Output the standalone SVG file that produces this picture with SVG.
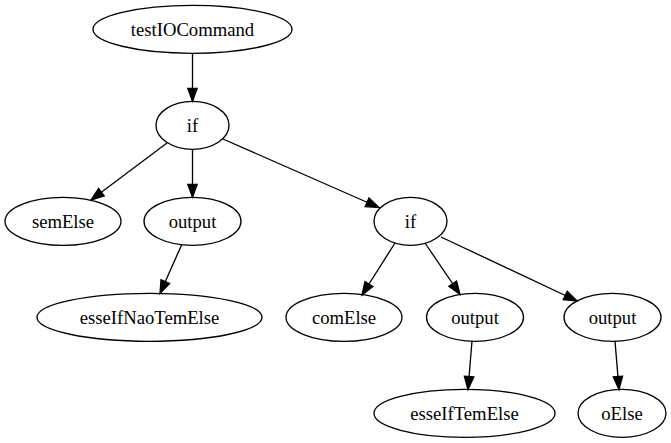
<svg xmlns="http://www.w3.org/2000/svg" width="671" height="443" viewBox="0 0 671 443">
<style>
.n ellipse{fill:none;stroke:#000;stroke-width:1.33}
.n text{font-family:"Liberation Serif","Times New Roman",serif;font-size:18.67px;text-anchor:middle;fill:#000}
.e path{fill:none;stroke:#000;stroke-width:1.33;marker-end:url(#arr)}
</style>
<defs>
<marker id="arr" markerUnits="userSpaceOnUse" markerWidth="16" markerHeight="12" refX="14" refY="5.7" orient="auto" overflow="visible">
<path d="M1,1 L14,5.7 L1,10.4 Z" fill="#000" stroke="#000" stroke-width="1.33"/>
</marker>
</defs>
<rect width="671" height="443" fill="#fff"/>
<g id="edges" class="e">
<path d="M192.5,53.3 L192.5,101.3"/>
<path d="M167,143 L91,200"/>
<path d="M192.5,149.3 L192.5,197.3"/>
<path d="M223,139 L379,207.5"/>
<path d="M182,244 L160,293.5"/>
<path d="M395,243 L362,295"/>
<path d="M425,243 L460,294.5"/>
<path d="M441,237 L577,301"/>
<path d="M472,341 L468,389.5"/>
<path d="M615,341 L619,389.5"/>
</g>
<g id="testIOCommand" class="n"><ellipse cx="192.5" cy="29.3" rx="99.5" ry="24"/><text x="192.5" y="35.5">testIOCommand</text></g>
<g id="if1" class="n"><ellipse cx="192.5" cy="125.3" rx="36.5" ry="24"/><text x="192.5" y="131.5">if</text></g>
<g id="semElse" class="n"><ellipse cx="63" cy="221.3" rx="58" ry="24"/><text x="63" y="227.5">semElse</text></g>
<g id="output1" class="n"><ellipse cx="192.5" cy="221.3" rx="48.5" ry="24"/><text x="192.5" y="227.5">output</text></g>
<g id="if2" class="n"><ellipse cx="410.5" cy="221.3" rx="36.5" ry="24"/><text x="410.5" y="227.5">if</text></g>
<g id="esseIfNaoTemElse" class="n"><ellipse cx="149.5" cy="317.3" rx="112.5" ry="24"/><text x="149.5" y="323.5">esseIfNaoTemElse</text></g>
<g id="comElse" class="n"><ellipse cx="344" cy="317.3" rx="58" ry="24"/><text x="344" y="323.5">comElse</text></g>
<g id="output2" class="n"><ellipse cx="475" cy="317.3" rx="48.5" ry="24"/><text x="475" y="323.5">output</text></g>
<g id="output3" class="n"><ellipse cx="612.5" cy="317.3" rx="48.5" ry="24"/><text x="612.5" y="323.5">output</text></g>
<g id="esseIfTemElse" class="n"><ellipse cx="464.5" cy="413.3" rx="90.5" ry="24"/><text x="464.5" y="419.5">esseIfTemElse</text></g>
<g id="oElse" class="n"><ellipse cx="622" cy="413.3" rx="44" ry="24"/><text x="622" y="419.5">oElse</text></g>
</svg>
